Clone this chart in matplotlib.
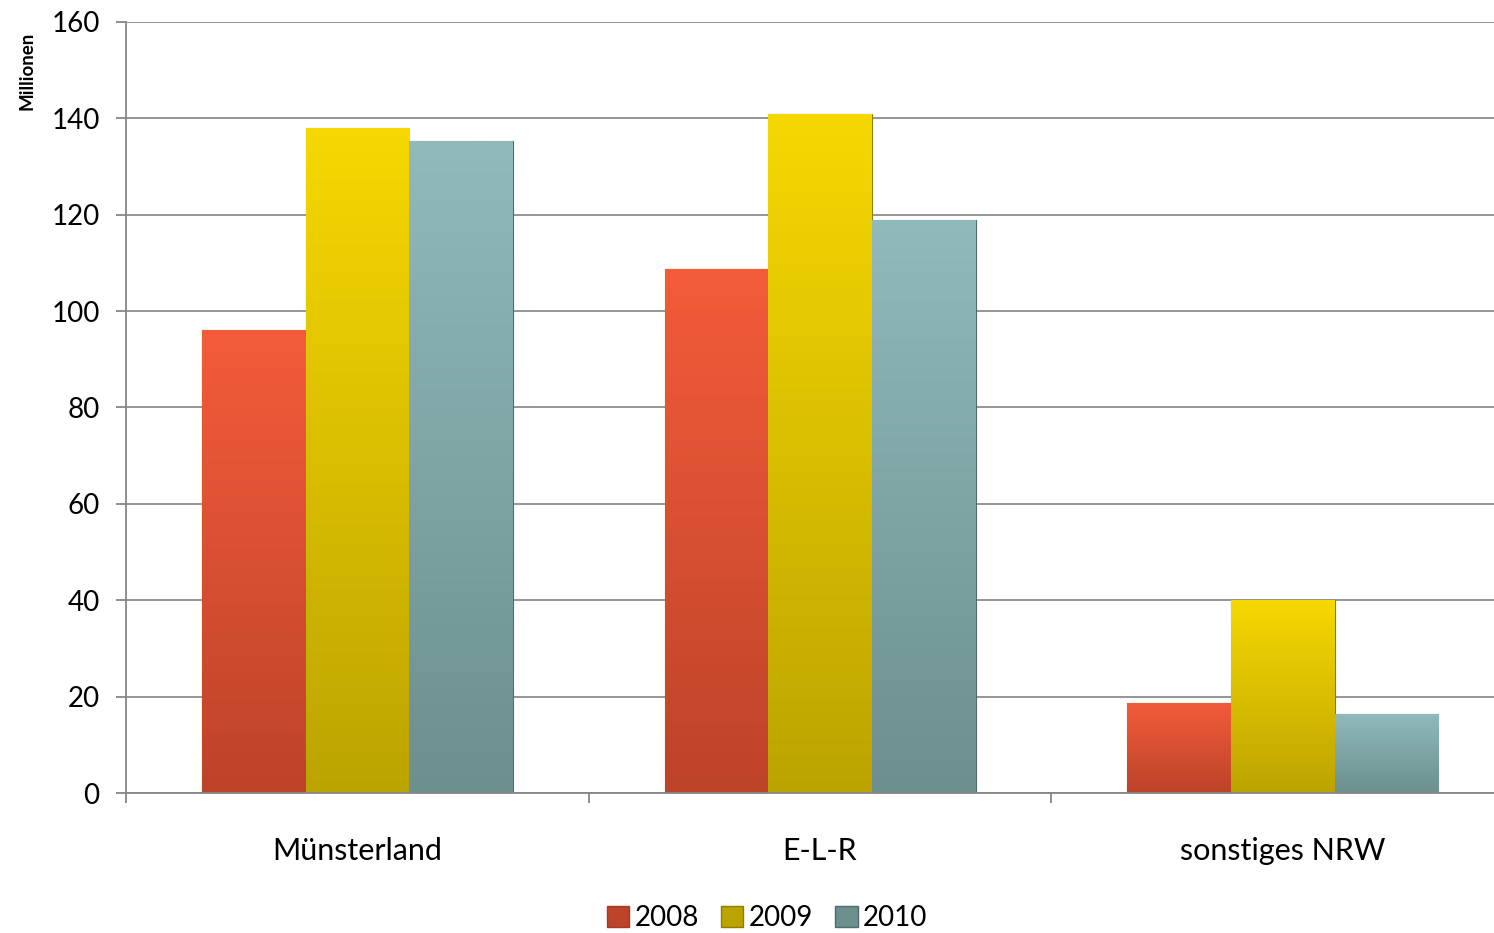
import matplotlib.pyplot as plt
import numpy as np
from matplotlib.colors import LinearSegmentedColormap
from matplotlib.patches import Patch

plt.rcParams['font.family'] = ['Lato', 'DejaVu Sans']

# Data (Millionen)
regions = ['Münsterland', 'E-L-R', 'sonstiges NRW']
years = ['2008', '2009', '2010']
values_2008 = [96, 108.7, 18.7]
values_2009 = [138, 141, 40]
values_2010 = [135.3, 119, 16.4]

# gradient colours per series: (top, bottom, edge)
colors = [('#f35c3a', '#bd4329', '#a33a24'),
          ('#f6d802', '#bca400', '#8f7e00'),
          ('#91baba', '#6c8f8f', '#4f6b6b')]

fig = plt.figure(figsize=(14.94, 9.33), dpi=100)
ax = fig.add_axes([126/1494, 140/933, 1368/1494, 771/933])

x = np.arange(len(regions))
width = 0.224
series = [values_2008, values_2009, values_2010]

for i, vals in enumerate(series):
    top, bottom, edge = colors[i]
    bars = ax.bar(x + (i - 1) * width, vals, width, color=top, edgecolor=edge,
                  linewidth=0.8, zorder=3, label=years[i])
    cmap = LinearSegmentedColormap.from_list('g%d' % i, [bottom, top])
    grad = np.linspace(0, 1, 256).reshape(-1, 1)
    for b in bars:
        x0, w, h = b.get_x(), b.get_width(), b.get_height()
        im = ax.imshow(grad, cmap=cmap, origin='lower', aspect='auto',
                       extent=(x0, x0 + w, 0, h), zorder=3.5)
        im.set_clip_path(b)

# category labels at centres, tick marks at group boundaries
ax.set_xticks(x)
ax.set_xticklabels(regions)
ax.set_xticks([-0.5, 0.5, 1.5, 2.5], minor=True)
ax.set_yticks(range(0, 161, 20))
ax.set_xlim(-0.5, -0.5 + 1368/462.7)
ax.set_ylim(0, 160)
ax.grid(axis='y', color='#8c8c8c', linewidth=1.3, zorder=0)
ax.set_axisbelow(True)

ax.tick_params(axis='x', which='major', length=0, pad=32, labelsize=22)
ax.tick_params(axis='x', which='minor', length=7, color='#868686', width=1.3)
ax.tick_params(axis='y', length=7, color='#868686', width=1.3, pad=12, labelsize=20)

for s in ['top', 'right']:
    ax.spines[s].set_visible(False)
ax.spines['left'].set_color('#868686')
ax.spines['bottom'].set_color('#868686')
ax.spines['left'].set_linewidth(1.3)
ax.spines['bottom'].set_linewidth(1.3)
ax.spines['bottom'].set_zorder(4)

fig.text(27/1494, 1 - 71/933, 'Millionen', rotation=90, fontsize=13.5,
         fontweight='bold', ha='center', va='center')

handles = [Patch(facecolor=colors[i][1], edgecolor=colors[i][2], label=years[i])
           for i in range(3)]
fig.legend(handles=handles, loc='center', bbox_to_anchor=(767/1494, 1 - 918/933),
           ncol=3, frameon=False, fontsize=20, handlelength=0.8, handleheight=0.8,
           handletextpad=0.2, columnspacing=0.8)

fig.savefig('out.png', dpi=100)
